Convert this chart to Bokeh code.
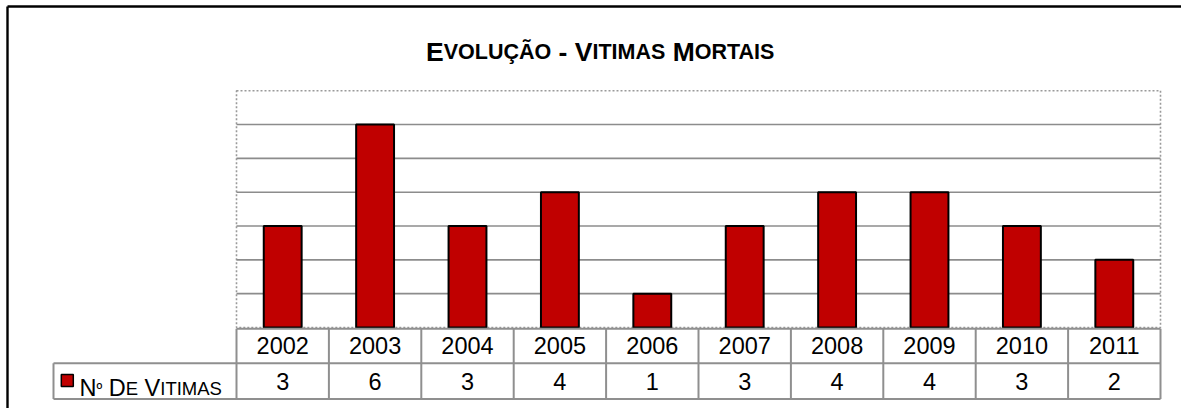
from bokeh.plotting import figure
from bokeh.models import Range1d
from bokeh.core.properties import value
from bokeh.embed import file_html
from bokeh.resources import INLINE

# ---------------- data ----------------
years = ["2002", "2003", "2004", "2005", "2006", "2007", "2008", "2009", "2010", "2011"]
victims = [3, 6, 3, 4, 1, 3, 4, 4, 3, 2]
grid_values = [1, 2, 3, 4, 5, 6]
y_max = 7
title_text = "EVOLUÇÃO - VITIMAS MORTAIS"
series_label = "Nº DE VITIMAS"

# ---------------- layout helpers (page pixels -> data) ----------------
W, H = 1181, 408
OFF = 0                                   # page offset of the figure
PL, PR, PB = 236.0, 1160.0, 327.0         # plot area left/right/bottom (page px)
CW = (PR - PL) / len(years)               # category width px
UNIT = 33.83                              # px per value unit

def px2x(X):
    return (X - PL) / CW - 0.5

def px2y(Y):
    return (PB - Y) / UNIT

FONT = "Liberation Sans"
RED = "#C00000"
GRID = "#8c8c8c"
TABLE = "#8f8f8f"

p = figure(width=W, height=H, x_range=Range1d(px2x(OFF), px2x(OFF + W)),
           y_range=Range1d(px2y(OFF + H), px2y(OFF)),
           x_axis_type=None, y_axis_type=None, output_backend="svg",
           toolbar_location=None, min_border=0)
p.outline_line_color = None
p.border_fill_color = "white"
p.background_fill_color = "white"

n = len(years)
xs = list(range(n))
x_left, x_right = -0.5, n - 0.5

# white cover at the right edge (nothing is drawn there in the reference)
p.quad(left=[px2x(1163)], right=[px2x(OFF + W + 5)], bottom=[px2y(OFF + H + 5)],
       top=[px2y(9)], fill_color="white", line_color=None)

# plot area dotted border
p.quad(left=[x_left], right=[x_right], bottom=[0], top=[y_max], fill_color=None,
       line_color="#9a9a9a", line_width=1.6, line_dash="2 2")

# horizontal grid lines
p.segment(x0=[x_left] * len(grid_values), x1=[x_right] * len(grid_values),
          y0=grid_values, y1=grid_values, line_color=GRID, line_width=1.6)

# bars
p.vbar(x=xs, top=victims, bottom=0, width=0.41, fill_color=RED,
       line_color="black", line_width=2)

# ---------------- data table ----------------
row1_top = px2y(328.2)
row1_bot = px2y(362.7)
row2_bot = px2y(398.5)
leg_left = px2x(53)

hx0 = [x_left, leg_left, leg_left]
hx1 = [x_right, x_right, x_right]
hy = [row1_top, row1_bot, row2_bot]
p.segment(x0=hx0, x1=hx1, y0=hy, y1=hy, line_color=TABLE, line_width=2)
vx = [k - 0.5 for k in range(n + 1)]
p.segment(x0=vx, x1=vx, y0=[row1_top] * (n + 1), y1=[row2_bot] * (n + 1),
          line_color=TABLE, line_width=2)
p.segment(x0=[leg_left], x1=[leg_left], y0=[row1_bot], y1=[row2_bot],
          line_color=TABLE, line_width=2)

row1_mid = (row1_top + row1_bot) / 2
row2_mid = (row1_bot + row2_bot) / 2
p.text(x=xs, y=[row1_mid] * n, text=years, text_font=value(FONT),
       text_font_size="23.5px", text_align="center", text_baseline="middle",
       text_color="black")
p.text(x=xs, y=[row2_mid] * n, text=[str(v) for v in victims], text_font=value(FONT),
       text_font_size="23.5px", text_align="center", text_baseline="middle",
       text_color="black")

# ---------------- small-caps text runs ----------------
BOLDW = {"E": .667, "V": .667, "O": .778, "L": .611, "U": .722, "Ç": .722, "Ã": .722,
         " ": .278, "-": .333, "I": .278, "T": .611, "M": .833, "A": .722, "S": .667,
         "R": .722}
REGW = {"N": .722, "º": .365, " ": .278, "D": .722, "E": .667, "V": .667, "I": .278,
        "T": .611, "M": .833, "A": .667, "S": .667}

def smallcaps_runs(text, big, small, widths):
    runs = []  # (string, size, offset_px)
    x = 0.0
    for word_i, word in enumerate(text.split(" ")):
        if word_i > 0:
            x += widths[" "] * big
        if not word:
            continue
        first, rest = word[0], word[1:]
        if first == "-":
            runs.append((first, big, x))
            x += widths[first] * big
            continue
        runs.append((first, big, x))
        x += widths[first] * big
        if rest:
            if rest[0] == "º":
                runs.append(("º", small * 0.85, x))
                x += widths["º"] * small * 0.85
                rest = rest[1:]
            if rest:
                runs.append((rest, small, x))
                x += sum(widths[c] for c in rest) * small
    return runs, x

# title
t_big, t_small = 26.5, 21.5
t_runs, t_w = smallcaps_runs(title_text, t_big, t_small, BOLDW)
t_start = 600.5 - t_w / 2
t_base = px2y(51)
for s, size, off in t_runs:
    p.text(x=[px2x(t_start + off)], y=[t_base], text=[s], text_font=value(FONT),
           text_font_size=f"{size}px", text_font_style="bold", text_align="left",
           text_baseline="alphabetic", text_color="black")

# legend key + label
p.scatter(x=[px2x(66.8)], y=[px2y(380)], marker="square", size=12,
          fill_color=RED, line_color="black", line_width=1.5)
l_runs, l_w = smallcaps_runs(series_label, 23.5, 18.5, REGW)
l_base = px2y(387.7)
for s, size, off in l_runs:
    p.text(x=[px2x(79 + off)], y=[l_base], text=[s], text_font=value(FONT),
           text_font_size=f"{size:.1f}px", text_align="left",
           text_baseline="alphabetic", text_color="black")

# outer chart frame (left and top edges visible)
p.segment(x0=[px2x(7), px2x(7)], x1=[px2x(7), px2x(OFF + W + 5)],
          y0=[px2y(OFF + H + 5), px2y(6)], y1=[px2y(6), px2y(6)],
          line_color="black", line_width=2.4)

open("out.html", "w").write(file_html(p, INLINE))
